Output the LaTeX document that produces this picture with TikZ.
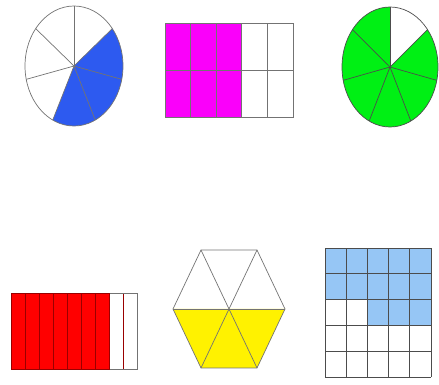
\documentclass[tikz,border=0pt]{standalone}

\definecolor{pieblue}{RGB}{45,90,240}
\definecolor{piegreen}{RGB}{0,240,20}
\definecolor{gridblue}{RGB}{150,198,245}
\definecolor{rectpink}{RGB}{250,0,250}

\newcommand*{\slice}{360/7}

\begin{document}
\begin{tikzpicture}
[
	x=0.03cm,
	y=0.03cm,
	edge/.style={draw=black!55,line width=0.6pt},
	gridline/.style={draw=black!70,line width=0.6pt}
]
	\useasboundingbox (0,0) rectangle (439,385);

	% pie, 3 of 7 shaded
	\fill[pieblue] (74,319) -- ++({90-\slice}:49 and 60)
		arc[start angle={90-\slice},end angle={90-4*\slice},x radius=49,y radius=60] -- cycle;
	\foreach \k in {0,...,6}
		\draw[edge] (74,319) -- ++({90-\k*\slice}:49 and 60);
	\draw[edge] (74,319) ellipse [x radius=49,y radius=60];

	% rectangle, 6 of 10 shaded
	\fill[rectpink] (165,268) rectangle (241.8,362);
	\foreach \k in {0,...,5}
		\draw[edge] ({165+\k*25.6},268) -- ({165+\k*25.6},362);
	\draw[edge] (165,268) rectangle (293,362);
	\draw[edge] (165,315) -- (293,315);

	% pie, 6 of 7 shaded
	\fill[piegreen] (390,318) -- ++({90-\slice}:48 and 60)
		arc[start angle={90-\slice},end angle=-270,x radius=48,y radius=60] -- cycle;
	\foreach \k in {0,...,6}
		\draw[edge,draw=black!70] (390,318) -- ++({90-\k*\slice}:48 and 60);
	\draw[edge,draw=black!70] (390,318) ellipse [x radius=48,y radius=60];

	% strips, 7 of 9 shaded
	\fill[red] (11,16) rectangle (109,92);
	\foreach \k in {0,...,9}
		\draw[edge,draw=red!60!black] ({11+\k*14},16) -- ({11+\k*14},92);
	\draw[edge] (109,16) rectangle (137,92);
	\draw[edge,draw=red!60!black] (11,16) rectangle (109,92);

	% hexagon, 3 of 6 shaded
	\fill[yellow] (173,76) -- (285,76) -- (257,17) -- (201,17) -- cycle;
	\draw[edge] (173,76) -- (201,135) -- (257,135) -- (285,76)
		-- (257,17) -- (201,17) -- cycle;
	\draw[edge] (173,76) -- (285,76);
	\draw[edge] (201,135) -- (257,17);
	\draw[edge] (257,135) -- (201,17);

	% square grid, 13 of 25 shaded
	\fill[gridblue] (325,85.4) rectangle (431,137);
	\fill[gridblue] (367.4,59.6) rectangle (431,85.4);
	\foreach \k in {0,...,5} {
		\draw[gridline] ({325+\k*21.2},8) -- ({325+\k*21.2},137);
		\draw[gridline] (325,{8+\k*25.8}) -- (431,{8+\k*25.8});
	}

\end{tikzpicture}
\end{document}
